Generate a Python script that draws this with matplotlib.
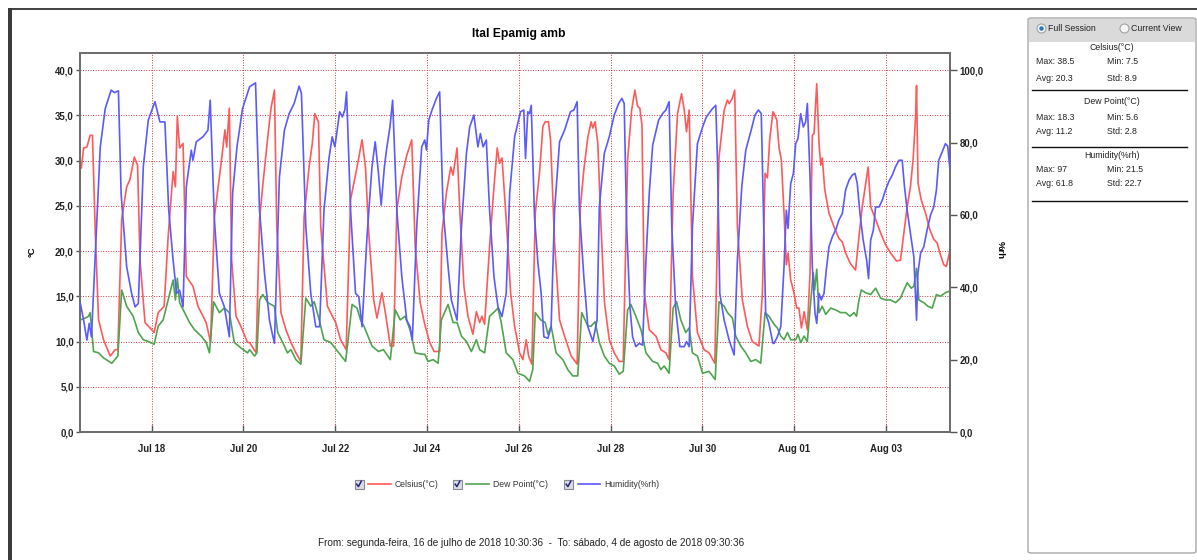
import numpy as np
import matplotlib
matplotlib.use("Agg")
import matplotlib.pyplot as plt
import matplotlib.dates as mdates
from matplotlib.patches import Rectangle, FancyBboxPatch, Ellipse
from matplotlib.lines import Line2D
from matplotlib.ticker import FuncFormatter, FixedLocator
from datetime import datetime, timedelta

# ---------------- data (hours since 2018-07-16 00:00) ----------------
celsius_hours = [11.2, 12.4, 14.1, 15.8, 17.0, 18.5, 20.2, 22.8, 26.3, 28.9, 30.3, 32.3, 34.9, 36.6, 38.9, 40.6,
                 41.9, 44.5, 49.3, 51.4, 54.5, 56.6, 59.2, 60.4, 61.4, 62.6, 64.4, 66.1, 69.6, 72.2, 76.5, 78.8,
                 80.8, 84.3, 86.3, 87.2, 88.6, 89.8, 92.1, 94.6, 98.1,
                 99.2, 102.6, 104.4, 106.4, 108.7, 110.4, 112.2, 113.4, 115.6, 118.2, 120.8, 123.4, 126.0, 127.7,
                 130.3, 132.0, 133.3, 135.2, 136.4, 139.9, 144.2, 146.8, 149.7, 152.0, 155.4, 158.0, 159.8, 161.5,
                 164.1, 165.8, 168.4, 170.2, 172.8, 174.5, 176.2, 178.8, 181.4, 184.0, 185.8, 188.4,
                 190.8, 193.4, 195.7, 198.6, 199.8, 202.1, 204.4, 205.6, 207.7, 209.1, 211.3, 213.4, 216.0, 217.8,
                 219.5, 220.7, 222.1, 224.7, 227.0, 228.7, 229.9, 231.2, 233.4, 235.7, 237.8, 240.4, 242.1, 243.9,
                 245.1, 246.8, 248.6, 250.8, 252.6, 253.8, 255.5, 256.6, 258.7, 261.3, 263.9, 267.4, 270.5, 272.2,
                 274.0, 276.1, 277.8, 278.7, 279.9, 281.3, 283.0, 284.8,
                 287.3, 289.9, 292.5, 294.6, 296.9, 299.0, 300.7, 302.1, 303.3, 304.4, 305.6, 308.2, 311.7, 314.3,
                 316.9, 318.6, 320.7, 323.0, 325.1, 326.5, 327.7, 329.1, 330.8, 333.4, 336.9, 339.5, 342.5, 344.7,
                 347.4, 349.1, 350.0, 351.7, 352.9, 354.3, 356.9, 359.5, 362.1, 365.6, 367.4, 368.8, 370.0, 371.2,
                 372.9,
                 373.5, 374.9, 376.1, 377.3, 378.7, 379.9, 380.8, 382.2, 383.9, 385.3, 386.5, 387.8, 389.2, 390.9,
                 392.3, 393.5, 394.4, 395.8, 397.0, 397.9, 398.7, 400.0, 402.2, 404.8, 407.4, 409.2, 410.9, 413.2,
                 415.3, 416.1, 417.9, 419.6, 421.4, 422.7, 424.0, 426.6, 429.2, 431.8, 434.4, 437.5, 439.6, 441.4,
                 443.1, 444.8, 446.2, 447.5, 448.0, 448.8, 450.4, 452.7, 454.9, 457.0, 458.8, 460.2, 462.2, 463.6,
                 465.5]
celsius_values = [29.2, 31.4, 31.5, 32.8, 32.8, 22.0, 12.4, 10.2, 8.4, 9.1, 9.1, 23.5, 27.1, 27.9, 30.4, 29.5,
                  19.0, 12.1, 11.0, 13.2, 13.9, 21.6, 28.8, 27.1, 34.9, 31.4, 31.9, 17.2, 16.1, 13.9, 12.1, 9.9,
                  23.8, 29.7, 33.4, 31.5, 35.8, 19.0, 12.8, 11.7, 9.9,
                  9.9, 8.75, 23.5, 27.9, 32.6, 35.8, 37.8, 22.7, 13.2, 11.3, 9.9, 8.75, 7.8, 23.8,
                  29.3, 31.9, 35.2, 34.3, 22.7, 13.9, 12.1, 10.2, 9.1, 25.7, 29.3, 32.3, 29.3, 22.0,
                  14.6, 12.6, 15.4, 13.2, 9.5, 9.5, 24.6, 28.2, 30.6, 32.3, 20.5, 14.3,
                  11.9, 9.9, 8.9, 8.9, 22.0, 26.4, 29.3, 28.4, 31.4, 24.6, 16.1, 12.8, 10.8, 13.3,
                  12.1, 12.8, 11.9, 20.5, 27.1, 31.4, 29.7, 30.3, 23.5, 15.4, 11.7, 8.75, 8.0, 10.2,
                  8.4, 7.5, 24.2, 28.6, 33.8, 34.3, 34.3, 32.3, 20.9, 12.4, 10.6, 8.4, 7.5, 24.9,
                  29.0, 32.6, 34.3, 33.6, 34.3, 31.9, 22.7, 14.3,
                  10.2, 8.75, 7.8, 7.8, 30.1, 35.6, 37.8, 36.0, 35.8, 33.9, 15.4, 11.3, 10.6, 9.1,
                  8.75, 8.0, 26.4, 35.2, 37.4, 35.6, 33.2, 35.6, 17.2, 11.0, 9.1, 8.75, 7.6, 30.4,
                  35.6, 36.7, 36.3, 36.9, 37.8, 22.7, 14.6, 11.7, 10.0, 9.5, 15.4, 28.6, 28.1, 32.3,
                  35.4,
                  35.2, 34.5, 31.4, 30.1, 24.2, 18.5, 19.8, 16.8, 15.4, 13.7, 13.7, 11.5, 13.3, 11.3,
                  17.6, 32.8, 33.0, 38.5, 31.9, 29.5, 30.3, 26.8, 24.2, 22.7, 21.4, 21.0, 19.8, 18.7,
                  18.1, 17.9, 21.6, 24.9, 27.5, 29.3, 24.9, 23.5, 22.0, 20.7, 19.8, 18.9, 19.0, 22.0,
                  24.9, 27.1, 30.1, 34.9, 38.3, 27.5, 25.7, 24.2, 22.4, 21.3, 20.9, 19.8, 18.5, 18.3,
                  20.1]

dew_hours = [10.7, 13.3, 15.0, 15.8, 17.6, 20.2, 22.8, 27.1, 30.3, 32.3, 34.9, 38.3, 41.0, 43.6, 46.2, 49.3,
             51.4, 54.0, 56.6, 59.2, 60.4, 61.4, 62.6, 65.2, 67.8, 70.4, 73.9, 76.5, 78.2, 80.4, 83.4, 86.0,
             88.6, 91.2, 94.6, 98.1,
             99.2, 101.8, 103.0, 104.4, 106.1, 108.7, 112.2, 113.9, 116.5, 119.0, 120.8, 123.4, 126.0, 128.6,
             131.2, 133.0, 135.6, 138.1, 141.6, 145.9, 149.4, 152.8, 155.4, 157.2, 159.0, 163.2, 166.6, 169.2,
             172.8, 175.4, 178.0, 180.5, 183.1, 185.8, 189.2,
             190.8, 192.5, 195.2, 197.8, 199.5, 203.0, 205.6, 207.7, 210.0, 212.6, 215.2, 217.8, 219.5, 222.1,
             224.7, 227.3, 229.1, 230.8, 233.4, 236.9, 239.5, 243.0, 245.6, 247.3, 248.6, 251.4, 253.8, 255.2,
             256.9, 259.5, 263.0, 265.6, 268.2, 270.8, 272.9, 276.1, 277.8, 279.9,
             282.1, 284.7, 287.3, 289.9, 292.5, 294.6, 296.9, 298.6, 301.2, 303.9, 306.5, 310.0, 312.6, 314.3,
             316.0, 318.6, 320.7, 322.5, 324.7, 327.3, 329.1, 330.8, 333.4, 336.1, 339.5, 342.7, 344.7, 347.4,
             349.1, 351.7, 353.4, 356.1, 358.7, 361.3, 363.9, 366.5, 368.8, 370.8,
             373.5, 375.2, 377.0, 378.7, 380.5, 382.2, 384.8, 386.0, 387.4, 389.2, 390.9, 392.6, 394.0, 394.7,
             395.8, 397.0, 398.7, 400.5, 403.1, 405.7, 408.3, 410.9, 413.2, 415.3, 416.6, 417.9, 419.1, 421.4,
             424.0, 426.6, 429.2, 431.8, 434.4, 437.0, 439.6, 441.4, 443.1, 445.2, 446.6, 448.0, 449.2, 451.8,
             453.9, 456.2, 458.4, 460.5, 463.1, 465.5]
dew_values = [12.4, 12.6, 12.8, 13.2, 8.9, 8.75, 8.2, 7.6, 8.4, 15.7, 13.9, 12.8, 11.0, 10.2, 10.0, 9.7,
              11.7, 12.4, 14.6, 16.8, 14.6, 17.0, 14.3, 13.2, 12.1, 11.3, 10.6, 9.9, 8.75, 14.4, 13.2, 13.7,
              13.2, 9.9, 9.3, 8.75,
              9.1, 8.4, 8.75, 14.6, 15.2, 14.3, 13.9, 11.0, 9.9, 8.75, 9.1, 8.0, 7.5, 14.8,
              13.9, 14.4, 12.4, 10.2, 9.9, 8.75, 7.8, 14.1, 13.7, 12.4, 11.7, 9.5, 8.9, 9.1,
              8.0, 13.5, 12.4, 12.8, 11.3, 8.75, 8.6,
              8.6, 7.8, 8.0, 7.6, 12.4, 14.1, 12.1, 12.1, 10.6, 10.0, 8.9, 10.2, 9.1, 8.75,
              12.8, 13.3, 13.7, 12.1, 8.75, 8.0, 6.5, 6.2, 5.6, 6.9, 13.2, 12.4, 12.1, 10.8,
              11.7, 8.75, 8.0, 6.9, 6.2, 6.2, 13.2, 11.7, 11.7, 12.2,
              9.9, 8.4, 7.6, 7.3, 6.4, 6.7, 13.5, 14.1, 12.8, 11.3, 8.75, 7.8, 7.6, 6.9,
              7.3, 6.5, 13.7, 14.4, 12.4, 11.0, 11.5, 8.75, 8.4, 6.5, 6.7, 5.8, 14.4, 13.9,
              13.2, 12.6, 10.6, 9.5, 8.75, 7.8, 8.0, 7.6, 13.2, 12.8,
              11.9, 11.5, 10.6, 10.2, 11.0, 10.2, 10.2, 10.8, 9.9, 10.6, 10.0, 14.3, 17.6, 15.7,
              18.0, 13.2, 13.9, 13.0, 13.7, 13.5, 13.2, 13.2, 12.8, 13.2, 12.8, 14.6, 15.7, 15.4,
              15.2, 15.9, 14.8, 14.6, 14.6, 14.3, 14.8, 15.7, 16.5, 15.9, 16.1, 18.1, 14.6, 14.3,
              13.9, 13.7, 15.2, 15.0, 15.4, 15.6]

humidity_hours = [10.7, 12.4, 14.1, 15.3, 16.5, 19.3, 21.1, 23.7, 26.8, 28.5, 30.6, 32.0, 34.9, 37.5, 39.3, 41.0,
                  43.6, 46.2, 49.7, 52.3, 54.9, 56.9, 59.2, 61.0, 62.6, 64.4, 66.1, 68.7, 69.6, 71.3, 74.8, 77.4,
                  78.6, 80.8, 83.4, 86.0, 88.6, 90.3, 92.6, 95.5, 98.1,
                  99.2, 102.3, 104.4, 107.0, 109.6, 111.0, 112.2, 114.8, 117.4, 119.9, 122.5, 125.1, 126.3, 128.6,
                  131.2, 133.8, 135.8, 138.1, 140.7, 142.4, 143.8, 146.3, 147.7, 149.0, 149.9, 152.0, 154.6, 156.3,
                  158.0, 160.6, 163.2, 164.9, 166.6, 168.0, 169.7, 170.9, 172.6, 174.0, 176.2, 178.8, 181.4, 183.1,
                  184.3, 186.6, 189.2,
                  190.8, 191.7, 192.9, 194.6, 196.9, 198.6, 200.4, 203.0, 204.7, 207.7, 210.0, 212.6, 214.3, 216.5,
                  218.6, 219.9, 221.3, 223.0, 224.7, 227.0, 229.1, 231.2, 233.4, 235.2, 237.8, 240.9, 242.6, 243.5,
                  244.7, 245.6, 246.5, 248.2, 250.0, 251.7, 253.1, 255.2, 256.9, 258.7, 261.3, 263.9, 267.0, 268.8,
                  270.5, 271.7, 274.0, 276.1, 278.7, 280.9,
                  282.1, 284.7, 287.3, 289.9, 292.2, 293.9, 295.1, 296.4, 298.1, 299.5, 301.2, 303.0, 304.7, 306.5,
                  308.2, 310.0, 313.1, 315.2, 316.9, 318.6, 320.0, 322.1, 324.2, 326.5, 327.7, 329.1, 330.8, 333.4,
                  336.1, 338.1, 341.3, 343.0, 343.9, 345.1, 347.4, 350.0, 352.6, 354.3, 356.6, 358.7, 361.3, 363.5,
                  365.3, 366.8, 367.7, 369.1, 370.8, 372.9,
                  373.5, 375.2, 377.0, 378.7, 379.9, 380.8, 382.2, 383.6, 384.8, 386.0, 387.4, 388.8, 390.0, 390.9,
                  392.3, 393.5, 394.9, 395.8, 397.0, 398.2, 399.6, 400.8, 402.2, 404.0, 405.7, 407.4, 409.2, 410.9,
                  412.7, 414.4, 415.8, 417.0, 418.4, 420.1, 421.9, 422.9, 424.0, 425.4, 426.6, 428.4, 430.1, 431.8,
                  433.5, 435.3, 437.0, 438.8, 440.5, 441.7, 443.1, 444.8, 446.6, 447.4, 448.0, 448.7, 450.1, 451.8,
                  453.5, 455.3, 457.0, 458.4, 459.6, 461.4, 463.1, 464.3, 465.5]
humidity_values = [35.5, 30.9, 25.4, 30.0, 26.3, 58.6, 78.8, 89.4, 94.5, 93.8, 94.3, 65.9, 45.7, 38.3, 34.6, 35.5,
                   73.3, 86.2, 91.3, 85.7, 85.7, 61.3, 47.5, 38.3, 39.2, 34.6, 67.8, 77.9, 75.1, 80.2, 81.6, 83.4,
                   91.7, 58.6, 38.3, 34.6, 26.3, 65.9, 78.8, 89.4, 93.6,
                   95.4, 96.5, 61.3, 43.8, 30.9, 27.3, 24.5, 70.5, 83.4, 88.0, 90.8, 95.6, 93.6, 56.7,
                   38.3, 29.1, 29.1, 61.3, 75.6, 81.6, 78.8, 88.5, 87.1, 89.0, 94.0, 61.3, 38.3, 37.4,
                   29.1, 54.0, 73.3, 80.2, 71.5, 62.7, 73.3, 78.4, 84.3, 91.7, 61.3, 42.9, 30.9, 29.1,
                   25.4, 56.7, 78.8,
                   80.7, 77.9, 86.2, 89.0, 92.2, 94.0, 61.3, 45.7, 36.5, 30.9, 56.7, 77.0, 84.3, 87.6,
                   78.8, 82.5, 78.8, 80.7, 61.3, 42.9, 34.6, 31.9, 38.3, 65.9, 81.6, 88.5, 89.0, 75.6,
                   88.5, 88.0, 90.3, 59.5, 46.6, 38.3, 26.3, 25.9, 29.1, 61.3, 80.2, 83.4, 88.5, 89.0,
                   91.3, 61.3, 42.9, 29.1, 25.0, 30.9,
                   62.2, 77.0, 81.6, 87.6, 90.8, 92.2, 90.8, 56.7, 34.6, 26.3, 23.6, 24.5, 24.0, 47.5,
                   65.9, 79.3, 86.2, 88.0, 89.0, 91.3, 56.7, 33.7, 23.6, 23.6, 25.0, 23.6, 56.7, 79.7,
                   84.3, 87.1, 89.4, 90.3, 75.1, 38.3, 30.9, 25.4, 21.3, 47.5, 67.8, 77.9, 83.0, 87.6,
                   89.0, 88.0, 65.9, 32.8, 30.0, 24.5,
                   24.5, 26.3, 29.1, 45.7, 61.3, 56.3, 68.7, 71.5, 79.7, 81.1, 88.0, 84.3, 85.7, 90.8,
                   70.5, 45.7, 32.8, 30.0, 38.3, 36.5, 38.3, 44.8, 51.2, 54.0, 55.8, 58.6, 60.4, 66.9,
                   69.6, 71.0, 71.5, 68.7, 60.4, 53.0, 47.5, 42.4, 53.0, 55.8, 62.2, 62.2, 64.1, 66.9,
                   69.2, 71.0, 73.3, 75.1, 75.1, 67.8, 61.3, 54.9, 48.4, 38.0, 30.9, 43.8, 49.4, 51.2,
                   55.8, 59.9, 62.2, 66.9, 75.1, 77.4, 79.7, 79.0, 72.4]

series_names = ["Celsius(°C)", "Dew Point(°C)", "Humidity(%rh)"]
series_colors = ["#ff5a5a", "#4fa44f", "#5a5aff"]
stats = {
    "Celsius(°C)": ("38.5", "7.5", "20.3", "8.9"),
    "Dew Point(°C)": ("18.3", "5.6", "11.2", "2.8"),
    "Humidity(%rh)": ("97", "21.5", "61.8", "22.7"),
}
title = "Ital Epamig amb"
range_text = "From: segunda-feira, 16 de julho de 2018 10:30:36  -  To: sábado, 4 de agosto de 2018 09:30:36"
start = datetime(2018, 7, 16)

# ---------------- figure ----------------
W, H = 1197, 560
fig = plt.figure(figsize=(W / 100, H / 100), dpi=100)
fig.patch.set_facecolor("white")
AX_FONT = "Liberation Sans"


def fx(x):
    return x / W


def fy(y):
    return 1 - y / H


def to_dates(hours):
    return [start + timedelta(hours=h) for h in hours]


L, R, T, B = 80, 950, 53, 432
ax = fig.add_axes([fx(L), fy(B), fx(R) - fx(L), fy(T) - fy(B)])
ax2 = ax.twinx()

ax.plot(to_dates(celsius_hours), celsius_values, color=series_colors[0], lw=1.2, zorder=3)
ax.plot(to_dates(dew_hours), dew_values, color=series_colors[1], lw=1.2, zorder=3)
ax2.plot(to_dates(humidity_hours), humidity_values, color=series_colors[2], lw=1.2, zorder=3)

ax.set_xlim(start + timedelta(hours=10.5), start + timedelta(hours=465.5))
ymax = 41.9
ax.set_ylim(0, ymax)
ax2.set_ylim(0, ymax * 2.5)

ax.set_yticks(np.arange(0, 41, 5))
ax2.set_yticks(np.arange(0, 101, 20))
comma = FuncFormatter(lambda v, p: f"{v:.1f}".replace(".", ","))
ax.yaxis.set_major_formatter(comma)
ax2.yaxis.set_major_formatter(comma)

xt = [start + timedelta(days=2 + 2 * k) for k in range(9)]
ax.xaxis.set_major_locator(FixedLocator(mdates.date2num(xt)))
ax.xaxis.set_major_formatter(mdates.DateFormatter("%b %d"))

ax.grid(True, color="#c23a3a", linestyle=(0, (1, 1.6)), lw=0.7, zorder=1)
ax.set_axisbelow(True)

for a in (ax, ax2):
    for s in a.spines.values():
        s.set_color("#6e6e6e")
        s.set_linewidth(1.4)
ax.tick_params(axis="y", direction="out", length=3, width=1, color="#555555", pad=1.5,
               labelsize=6.9)
ax.tick_params(axis="x", direction="in", length=5, width=1, color="#555555", pad=9,
               labelsize=6.9)
ax2.tick_params(axis="y", direction="out", length=5, width=1, color="#555555", pad=2,
                labelsize=6.9)
for lab in ax.get_yticklabels() + ax.get_xticklabels() + ax2.get_yticklabels():
    lab.set_fontweight("bold")
    lab.set_fontfamily(AX_FONT)
    lab.set_color("#222222")

fig.text(fx(519), fy(34), title, ha="center", va="center", fontsize=8.7, fontweight="bold",
         family=AX_FONT)
fig.text(fx(32), fy(252), "°C", ha="center", va="center", rotation=90, fontsize=6.8,
         fontweight="bold", family=AX_FONT)
fig.text(fx(1000), fy(250), "%rh", ha="center", va="center", rotation=270, fontsize=6.8,
         fontweight="bold", family=AX_FONT)

# ---------------- legend with checkboxes ----------------
leg_items = [(359, 368, 391, 395), (457.5, 466, 489, 493), (568.5, 578, 600, 604)]
ly = 484
for (cx, l0, l1, tx), name, col in zip(leg_items, series_names, series_colors):
    fig.patches.append(Rectangle((fx(cx - 4.5), fy(ly + 4.5)), 9 / W, 9 / H, transform=fig.transFigure,
                                 facecolor="#dcdce4", edgecolor="#8a8a96", lw=0.8))
    fig.lines.append(Line2D([fx(cx - 2.3), fx(cx - 0.6), fx(cx + 2.3)],
                            [fy(ly + 0.2), fy(ly + 2.6), fy(ly - 2.8)], transform=fig.transFigure,
                            color="#1c2a78", lw=1.1))
    fig.lines.append(Line2D([fx(l0), fx(l1)], [fy(ly), fy(ly)], transform=fig.transFigure,
                            color=col, lw=1.2))
    fig.text(fx(tx), fy(ly + 0.5), name, ha="left", va="center", fontsize=6.2, family=AX_FONT,
             color="#333333")

fig.text(fx(318), fy(543), range_text, ha="left", va="center", fontsize=7.2, family=AX_FONT,
         color="#222222")

# ---------------- outer frame ----------------
fig.patches.append(Rectangle((fx(8), fy(10)), fx(1197) - fx(8), 2.5 / H, transform=fig.transFigure,
                             facecolor="#454545", edgecolor="none"))
fig.patches.append(Rectangle((fx(8), 0), 4 / W, fy(8), transform=fig.transFigure,
                             facecolor="#3a3a3a", edgecolor="none"))

# ---------------- right stats panel ----------------
PX0, PX1, PY0, PY1 = 1028, 1196, 18, 553
fig.patches.append(FancyBboxPatch((fx(PX0), fy(PY1)), fx(PX1) - fx(PX0), fy(PY0) - fy(PY1),
                                  boxstyle="round,pad=0,rounding_size=0.003", transform=fig.transFigure,
                                  facecolor="white", edgecolor="#a8a8a8", lw=1.0))
fig.patches.append(Rectangle((fx(PX0 + 0.7), fy(41.5)), fx(PX1 - 0.7) - fx(PX0 + 0.7), 23 / H,
                             transform=fig.transFigure, facecolor="#dadada", edgecolor="none"))
# radio buttons
for cx, label, sel in [(1041.5, "Full Session", True), (1124.5, "Current View", False)]:
    fig.patches.append(Ellipse((fx(cx), fy(28.5)), 9 / W, 9 / H, transform=fig.transFigure,
                               facecolor="#f4f4f4", edgecolor="#9a9a9a", lw=0.7))
    if sel:
        fig.patches.append(Ellipse((fx(cx), fy(28.5)), 4.5 / W, 4.5 / H, transform=fig.transFigure,
                                   facecolor="#2a78c0", edgecolor="none"))
    fig.text(fx(cx + 6.5), fy(28.8), label, ha="left", va="center", fontsize=6.3,
             family=AX_FONT, color="#222222")

blocks = [(48, 62, 79, 90), (101, 117, 131, 147), (155, 170, 184, 201)]
for (ty, my, ay, sy), name in zip(blocks, series_names):
    mx, mn, av, sd = stats[name]
    fig.text(fx(1112), fy(ty), name, ha="center", va="center", fontsize=6.3, family=AX_FONT,
             color="#222222")
    fig.text(fx(1036), fy(my), f"Max: {mx}", ha="left", va="center", fontsize=6.3, family=AX_FONT,
             color="#222222")
    fig.text(fx(1107), fy(my), f"Min: {mn}", ha="left", va="center", fontsize=6.3, family=AX_FONT,
             color="#222222")
    fig.text(fx(1036), fy(ay), f"Avg: {av}", ha="left", va="center", fontsize=6.3, family=AX_FONT,
             color="#222222")
    fig.text(fx(1107), fy(ay), f"Std: {sd}", ha="left", va="center", fontsize=6.3, family=AX_FONT,
             color="#222222")
    fig.lines.append(Line2D([fx(1032), fx(1187)], [fy(sy), fy(sy)], transform=fig.transFigure,
                            color="#111111", lw=1.0))

fig.savefig("out.png", dpi=100, facecolor="white")
